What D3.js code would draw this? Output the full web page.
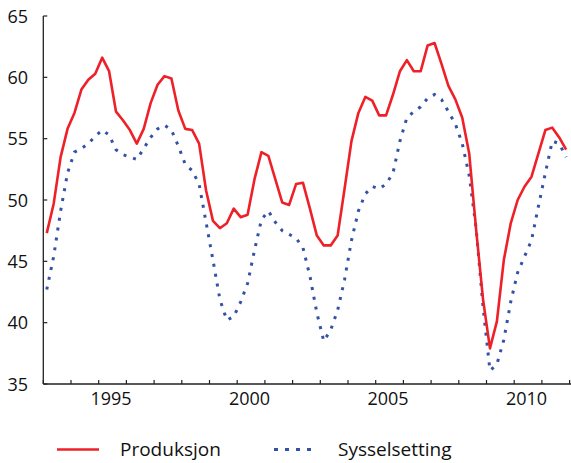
<!DOCTYPE html>
<html>
<head>
<meta charset="utf-8">
<script src="https://cdn.jsdelivr.net/npm/d3@7"></script>
<style>
  body { margin: 0; background: #fff; }
  svg text { font-family: "Open Sans", "Noto Sans", sans-serif; fill: #111; }
</style>
</head>
<body>
<svg id="chart" width="571" height="463"></svg>
<script>
// Quarterly series, 1993 Q1 – 2011 Q4
const startYear = 1993;
const seriesNames = ["Produksjon", "Sysselsetting"];
const produksjon = [
  47.3, 49.7, 53.5, 55.8, 57.1, 59.0, 59.8, 60.3, 61.6, 60.5,
  57.2, 56.5, 55.7, 54.6, 55.8, 57.9, 59.4, 60.1, 59.9, 57.3,
  55.8, 55.7, 54.6, 50.8, 48.3, 47.7, 48.1, 49.3, 48.6, 48.8,
  51.7, 53.9, 53.6, 51.7, 49.8, 49.6, 51.3, 51.4, 49.3, 47.1,
  46.3, 46.3, 47.1, 50.9, 54.8, 57.1, 58.4, 58.1, 56.9, 56.9,
  58.6, 60.5, 61.4, 60.5, 60.5, 62.6, 62.8, 61.1, 59.3, 58.2,
  56.7, 53.8, 47.6, 41.9, 37.9, 40.1, 45.1, 48.1, 50.0, 51.1,
  51.9, 53.8, 55.7, 55.9, 55.1, 54.1
];
const sysselsetting = [
  42.7, 45.4, 49.1, 52.2, 53.9, 54.2, 54.6, 55.2, 55.7, 55.3,
  54.1, 53.7, 53.5, 53.3, 54.2, 55.1, 55.8, 56.1, 55.7, 54.4,
  52.9, 52.4, 51.3, 48.2, 45.1, 41.9, 40.2, 40.5, 41.7, 43.2,
  45.9, 48.4, 49.1, 48.2, 47.5, 47.2, 46.9, 46.1, 43.8, 40.8,
  38.5, 39.4, 41.0, 43.5, 46.7, 49.1, 50.5, 51.1, 50.9, 51.3,
  52.2, 54.8, 56.7, 57.2, 57.6, 58.3, 58.6, 58.2, 57.2, 56.2,
  54.6, 52.0, 47.7, 41.3, 36.1, 36.6, 38.6, 41.7, 44.1, 45.4,
  46.7, 49.5, 52.2, 54.8, 54.6, 53.5
];
const yTicks = [35, 40, 45, 50, 55, 60, 65];
const xTickYears = [1993,1994,1995,1996,1997,1998,1999,2000,2001,2002,2003,2004,2005,2006,2007,2008,2009,2010,2011,2012];
const xLabelYears = [1995, 2000, 2005, 2010];

const svg = d3.select("#chart");
const x = d3.scaleLinear().domain([1993, 2012]).range([43.3, 569.6]);
const y = d3.scaleLinear().domain([35, 65]).range([384, 16]);

const t = i => startYear + (i + 0.5) / 4;

// Axes
const axisColor = "#222";
svg.append("line").attr("x1", x(1993)).attr("x2", x(1993)).attr("y1", y(65)).attr("y2", y(35))
  .attr("stroke", axisColor).attr("stroke-width", 1.3);
svg.append("line").attr("x1", x(1993)).attr("x2", 571).attr("y1", y(35)).attr("y2", y(35))
  .attr("stroke", axisColor).attr("stroke-width", 1.3);

svg.selectAll(".ytick").data(yTicks).enter().append("line")
  .attr("x1", x(1993)).attr("x2", x(1993) + 4)
  .attr("y1", d => y(d)).attr("y2", d => y(d))
  .attr("stroke", axisColor).attr("stroke-width", 1.2);
svg.selectAll(".ylab").data(yTicks).enter().append("text")
  .attr("x", 28).attr("y", d => y(d) + 6.5)
  .attr("text-anchor", "end").attr("font-size", 18)
  .text(d => d);

svg.selectAll(".xtick").data(xTickYears).enter().append("line")
  .attr("x1", d => x(d)).attr("x2", d => x(d))
  .attr("y1", y(35)).attr("y2", y(35) - 4)
  .attr("stroke", axisColor).attr("stroke-width", 1.2);
svg.selectAll(".xlab").data(xLabelYears).enter().append("text")
  .attr("x", d => x(d + 0.5) - 1.5).attr("y", 405)
  .attr("text-anchor", "middle").attr("font-size", 18)
  .text(d => d);

// Lines
const line = d3.line().x((d, i) => x(t(i))).y(d => y(d)).curve(d3.curveLinear);
const red = "#ee2028", blue = "#3352a6";
svg.append("path").datum(sysselsetting).attr("d", line)
  .attr("fill", "none").attr("stroke", blue).attr("stroke-width", 3)
  .attr("stroke-dasharray", "3,7");
svg.append("path").datum(produksjon).attr("d", line)
  .attr("fill", "none").attr("stroke", red).attr("stroke-width", 2.6)
  .attr("stroke-linejoin", "round");

// Legend
const ly = 449.5;
svg.append("line").attr("x1", 57).attr("x2", 99).attr("y1", ly).attr("y2", ly)
  .attr("stroke", red).attr("stroke-width", 2.6);
svg.append("text").attr("x", 120).attr("y", ly + 6.8).attr("font-size", 19).text(seriesNames[0]);
svg.append("line").attr("x1", 274).attr("x2", 316).attr("y1", ly).attr("y2", ly)
  .attr("stroke", blue).attr("stroke-width", 3).attr("stroke-dasharray", "4,7");
svg.append("text").attr("x", 338).attr("y", ly + 6.8).attr("font-size", 19).text(seriesNames[1]);
</script>
</body>
</html>
